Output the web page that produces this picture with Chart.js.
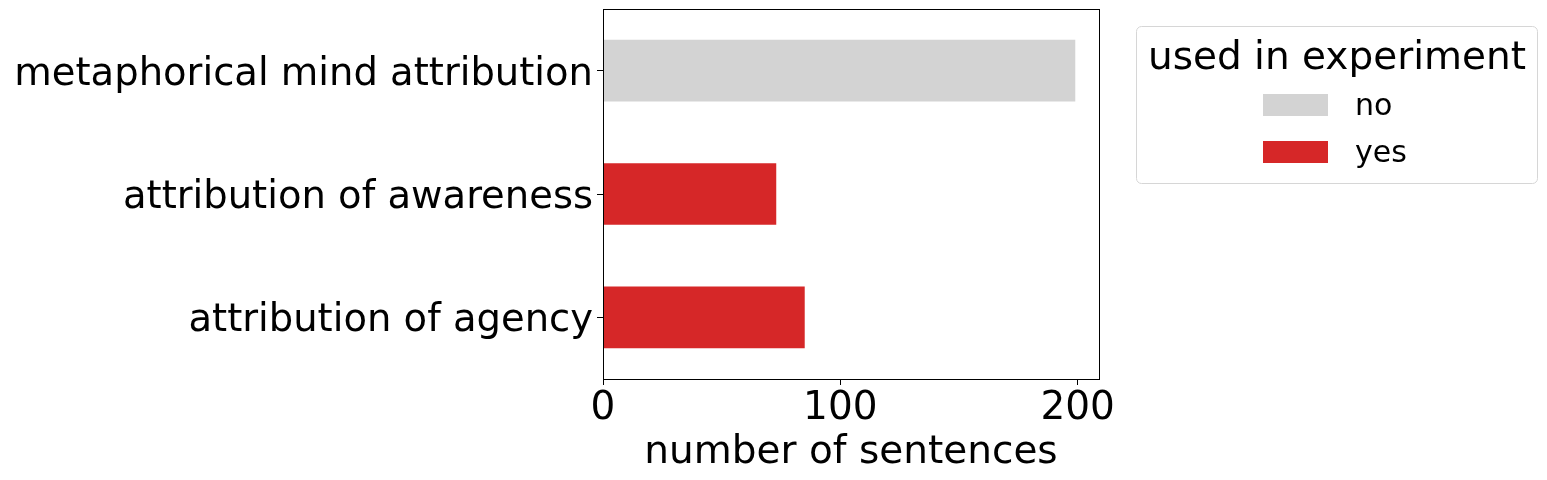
<!DOCTYPE html>
<html>
<head>
<meta charset="utf-8">
<script src="https://cdn.jsdelivr.net/npm/chart.js@4/dist/chart.umd.min.js"></script>
<style>
  html, body { margin: 0; padding: 0; background: #fff; }
  #wrap { width: 1547px; height: 480px; position: relative; }
</style>
</head>
<body>
<div id="wrap"><canvas id="grafico" width="1547" height="480"></canvas></div>
<script>
// dados do gráfico
const categorias = ['metaphorical mind attribution', 'attribution of awareness', 'attribution of agency'];
const valoresNo = [199, null, null];
const valoresYes = [null, 73, 85];
const ticksX = [0, 100, 200];
const legendaTitulo = 'used in experiment';

const FONTE = "'DejaVu Sans', sans-serif";

// borda completa do gráfico + legenda desenhada à mão
const molduraPlugin = {
  id: 'moldura',
  afterDraw(chart) {
    const ctx = chart.ctx;
    const a = chart.chartArea;
    ctx.save();
    ctx.strokeStyle = '#000';
    ctx.lineWidth = 1;
    ctx.strokeRect(Math.round(a.left) + 0.5, Math.round(a.top) + 0.5,
      Math.round(a.right - a.left), Math.round(a.bottom - a.top));

    // caixa da legenda
    const bx = 1136.5, by = 26.5, bw = 401, bh = 157, r = 5;
    ctx.beginPath();
    ctx.moveTo(bx + r, by);
    ctx.arcTo(bx + bw, by, bx + bw, by + bh, r);
    ctx.arcTo(bx + bw, by + bh, bx, by + bh, r);
    ctx.arcTo(bx, by + bh, bx, by, r);
    ctx.arcTo(bx, by, bx + bw, by, r);
    ctx.closePath();
    ctx.fillStyle = 'rgba(255,255,255,0.8)';
    ctx.fill();
    ctx.strokeStyle = '#d6d6d6';
    ctx.stroke();

    ctx.fillStyle = '#000';
    ctx.font = '39px ' + FONTE;
    ctx.textAlign = 'center';
    ctx.textBaseline = 'alphabetic';
    ctx.fillText(legendaTitulo, 1337, 69);

    ctx.font = '30px ' + FONTE;
    ctx.textAlign = 'left';
    ctx.textBaseline = 'middle';
    chart.data.datasets.forEach((ds, i) => {
      const y = 94 + i * 47;
      ctx.fillStyle = ds.backgroundColor;
      ctx.fillRect(1263, y, 65, 22);
      ctx.fillStyle = '#000';
      ctx.fillText(ds.label, 1355, y + 13);
    });
    ctx.restore();
  }
};

const ctx = document.getElementById('grafico').getContext('2d');
new Chart(ctx, {
  type: 'bar',
  data: {
    labels: categorias,
    datasets: [
      { label: 'no', data: valoresNo, backgroundColor: '#d3d3d3' },
      { label: 'yes', data: valoresYes, backgroundColor: '#d62728' }
    ]
  },
  options: {
    indexAxis: 'y',
    responsive: false,
    animation: false,
    devicePixelRatio: 1,
    layout: { padding: { left: 0, right: 448, top: 9, bottom: 0 } },
    datasets: { bar: { categoryPercentage: 1, barPercentage: 0.5 } },
    plugins: { legend: { display: false }, tooltip: { enabled: false } },
    scales: {
      x: {
        stacked: true,
        min: 0,
        max: 209,
        afterBuildTicks: (scale) => {
          scale.ticks = ticksX.map(v => ({ value: v }));
        },
        afterFit: (scale) => { scale.height = 101; },
        grid: { drawOnChartArea: false, tickLength: 6, color: '#000' },
        border: { display: false },
        ticks: { color: '#000', font: { size: 39, family: FONTE }, padding: 0, maxRotation: 0 },
        title: { display: true, text: 'number of sentences', color: '#000', font: { size: 39, family: FONTE }, padding: { top: 0, bottom: 4 } }
      },
      y: {
        stacked: true,
        afterFit: (scale) => { scale.width = 603; scale.paddingTop = 0; scale.paddingBottom = 0; },
        grid: { drawOnChartArea: false, tickLength: 6, color: '#000', offset: false },
        border: { display: false },
        ticks: { color: '#000', font: { size: 38.5, family: FONTE }, padding: 4, labelOffset: 4 }
      }
    }
  },
  plugins: [molduraPlugin]
});
</script>
</body>
</html>
